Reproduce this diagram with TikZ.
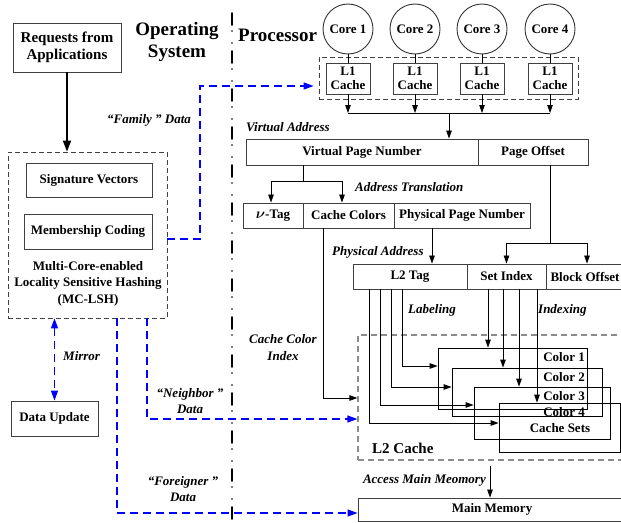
\documentclass[tikz,border=0pt]{standalone}
\usepackage{bm}
\usepackage{fontspec}
\setmainfont{Liberation Serif}
\usetikzlibrary{arrows.meta}
\newcommand\szn{\fontsize{13}{16.5}\selectfont}
\newcommand\szb{\fontsize{19}{22}\selectfont}
\begin{document}
\begin{tikzpicture}[x=1pt,y=-1pt,
  box/.style={draw=black!75, line width=0.9pt, inner sep=0pt, font=\bfseries\szn, align=center},
  cbox/.style={draw=black, line width=0.8pt, inner sep=0pt},
  core/.style={circle, draw=black!80, line width=0.9pt, minimum size=50pt, inner sep=0pt, font=\bfseries\szn},
  grp/.style={draw=black!75, line width=0.8pt, dash pattern=on 5pt off 3pt, inner sep=0pt},
  grpl/.style={draw=black!45, line width=1.2pt, dash pattern=on 6pt off 4pt, inner sep=0pt},
  lbl/.style={font=\bfseries\itshape\szn, inner sep=0pt, align=center},
  txt/.style={font=\bfseries\szn, inner sep=0pt, align=center},
  arr/.style={line width=0.8pt, -{Triangle[length=8pt,width=5.5pt]}},
  ln/.style={line width=0.8pt},
  bigarr/.style={line width=1.8pt, -{Triangle[length=11pt,width=8pt]}},
  blu/.style={draw=blue, line width=1.2pt, dash pattern=on 8pt off 5pt},
  bluarr/.style={blu, -{Triangle[length=10pt,width=7pt,fill=blue]}},
]
\useasboundingbox (0,0) rectangle (621,522);

% divider between operating system and processor
\draw[line width=1.8pt, line cap=round,
      dash pattern=on 12pt off 6pt on 0pt off 12pt on 0pt off 8pt] (232,13) -- (232,522);

% headings
\node[txt, font=\bfseries\szb] (hOS) at (177,42) {Operating\\System};
\node[txt, font=\bfseries\szb, anchor=west] (hPR) at (238,35) {Processor};

% ---------- operating system side ----------
\node[box, font=\bfseries\fontsize{15}{17.5}\selectfont, minimum width=108pt, minimum height=49pt] (req) at (67,47.5) {Requests from\\Applications};
\node[grp, minimum width=159pt, minimum height=166pt] (mclsh) at (87.5,235) {};
\node[box, minimum width=126pt, minimum height=34pt] (sig) at (89,180) {Signature Vectors};
\node[box, minimum width=128pt, minimum height=35pt] (mem) at (88,231.5) {Membership Coding};
\node[txt] (mctxt) at (88,283.5) {Multi-Core-enabled\\Locality Sensitive Hashing\\(MC-LSH)};
\node[box, minimum width=87pt, minimum height=35pt] (upd) at (54.5,418.5) {Data Update};

\draw[bigarr] (req.south) -- (req.south |- mclsh.north);

% ---------- cores and L1 caches ----------
\node[grp, minimum width=259pt, minimum height=42pt] (l1g) at (448.5,78) {};
\foreach \i/\x in {1/348,2/415,3/482,4/550}{
  \node[core] (k\i) at (\x,29) {Core \i};
  \node[box, minimum width=44pt, minimum height=31pt] (l\i) at (\x,78.5) {L1\\[-2pt]Cache};
  \draw[ln] (k\i.south) -- (l\i.north);
  \draw[arr] (l\i.south) -- (\x,113);
}
\coordinate (bus) at (449,113);
\draw[ln] (l1.south |- bus) -- (l4.south |- bus);

% ---------- virtual address ----------
\node[box, minimum width=232pt, minimum height=26pt] (vpn) at (362,152) {Virtual Page Number};
\node[box, minimum width=110pt, minimum height=26pt] (po) at (533,152) {Page Offset};
\node[lbl, anchor=west] (lva) at (246,127) {Virtual Address};
\draw[arr] (bus) -- (bus |- vpn.north);

% ---------- translated address ----------
\node[box, minimum width=60pt, minimum height=25pt] (vtag) at (273,215.5) {{\fontsize{15}{15}\selectfont$\bm{\nu}$}-Tag};
\node[box, minimum width=91pt, minimum height=25pt] (cc) at (348.5,215.5) {Cache Colors};
\node[box, minimum width=136pt, minimum height=25pt] (ppn) at (462,215.5) {Physical Page Number};
\node[lbl, anchor=west] (lat) at (355,187) {Address Translation};
\coordinate (ta) at (303,181);
\draw[ln] (vpn.south -| ta) -- (ta);
\draw[arr] (ta) -| (vtag.north -| 271,0);
\draw[arr] (ta) -| (cc.north -| 342,0);

% ---------- physical address ----------
\node[box, minimum width=114pt, minimum height=25pt] (l2tag) at (410,276.5) {L2 Tag};
\node[box, minimum width=79pt, minimum height=25pt] (sidx) at (506.5,276.5) {Set Index};
\node[box, minimum width=78pt, minimum height=25pt] (boff) at (585,276.5) {Block Offset};
\node[lbl, anchor=west] (lpa) at (332,252) {Physical Address};
\coordinate (pb) at (550,243);
\draw[ln] (po.south -| pb) -- (pb);
\draw[arr] (pb) -| (sidx.north);
\draw[arr] (pb) -| (boff.north -| 587,0);
\draw[arr] (ppn.south -| 432,0) -- (l2tag.north -| 432,0);

% ---------- L2 cache ----------
\node[grpl, minimum width=282pt, minimum height=125pt] (l2c) at (499,397.5) {};
\node[txt, font=\bfseries\fontsize{15}{18}\selectfont, anchor=west] (l2l) at (372,448) {L2 Cache};
\node[cbox, minimum width=149pt, minimum height=61pt] (c1) at (512.5,378.5) {};
\node[cbox, minimum width=150pt, minimum height=48pt] (c2) at (527,392) {};
\node[cbox, minimum width=136pt, minimum height=52pt] (c3) at (542,413) {};
\node[cbox, minimum width=121pt, minimum height=49pt] (c4) at (559.5,427.5) {};
\node[txt, anchor=east] (t1) at (585,357) {Color 1};
\node[txt, anchor=east] (t2) at (585,377) {Color 2};
\node[txt, anchor=east] (t3) at (585,396) {Color 3};
\node[txt, anchor=east] (t4) at (585,412) {Color 4};
\node[txt] (t5) at (560,428) {Cache Sets};
\node[lbl, anchor=west] (llab) at (408,310) {Labeling};
\node[lbl, anchor=west] (lidx) at (538,310) {Indexing};
\node[lbl] (lcci) at (283,347.5) {Cache Color\\Index};

% labeling lines from the L2 tag
\draw[arr] (l2tag.south -| 402,0) |- (c1.west |- 0,366);
\draw[arr] (l2tag.south -| 391,0) |- (c2.west |- 0,387);
\draw[arr] (l2tag.south -| 380,0) |- (c3.west |- 0,405);
\draw[arr] (l2tag.south -| 369,0) |- (c4.west |- 0,423);
% indexing lines from the set index
\draw[arr] (sidx.south -| 488,0) -- (c1.north -| 488,0);
\draw[arr] (sidx.south -| 503,0) -- (c2.north -| 503,0);
\draw[arr] (sidx.south -| 519,0) -- (c3.north -| 519,0);
\draw[arr] (sidx.south -| 537,0) -- (c4.north -| 537,0);
% cache color index
\draw[arr] (cc.south -| 323,0) |- (l2c.west |- 0,398);

% ---------- main memory ----------
\node[box, minimum width=268pt, minimum height=23pt] (mm) at (492,509.5) {Main Memory};
\node[lbl, anchor=east] (lam) at (486,480) {Access Main Meomory};
\draw[arr, shorten <=5pt] (l2c.south -| 490,0) -- (mm.north -| 490,0);

% ---------- data flows from MC-LSH ----------
\coordinate (fa) at (200,239);
\coordinate (fb) at (200,86);
\draw[bluarr, shorten >=5pt] (mclsh.east |- fa) -- (fa) -- (fb) -- (l1g.west |- fb);
\node[lbl] (lfam) at (149,120) {“Family ” Data};

\draw[blu, {Triangle[length=10pt,width=7pt,fill=blue]}-{Triangle[length=10pt,width=7pt,fill=blue]}]
  (upd.north |- mclsh.south) -- (upd.north);
\node[lbl, anchor=west] (lmir) at (63,356) {Mirror};

\coordinate (na) at (147,419);
\draw[bluarr] (mclsh.south -| na) -- (na) -- (l2c.west |- na);
\node[lbl] (lnb) at (190,401) {“Neighbor ”\\Data};

\coordinate (ra) at (117,513);
\draw[bluarr] (mclsh.south -| ra) -- (ra) -- (mm.west |- ra);
\node[lbl] (lfor) at (183,489) {“Foreigner ”\\Data};
\end{tikzpicture}
\end{document}
